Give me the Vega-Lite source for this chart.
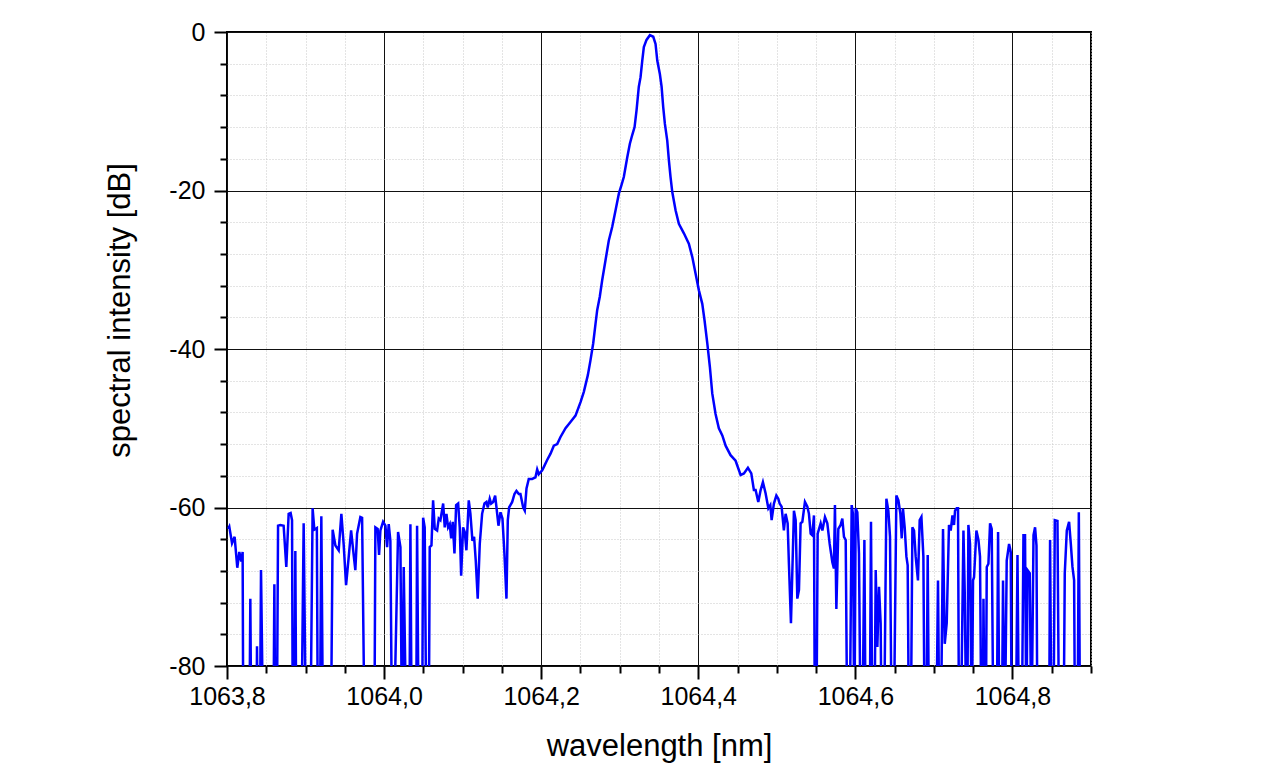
{
  "$schema": "https://vega.github.io/schema/vega-lite/v6.json",
  "width": 864,
  "height": 634,
  "autosize": "none",
  "padding": {"left": 227, "top": 32, "right": 175, "bottom": 111},
  "background": "white",
  "data": {
    "values": [
      {"wavelength": 1063.8013, "dB": -62.7}, {"wavelength": 1063.8029, "dB": -62.4}, {"wavelength": 1063.8064, "dB": -64.5},
      {"wavelength": 1063.8097, "dB": -63.7}, {"wavelength": 1063.8131, "dB": -67.6}, {"wavelength": 1063.8157, "dB": -65.6},
      {"wavelength": 1063.8182, "dB": -66.8}, {"wavelength": 1063.8199, "dB": -65.6}, {"wavelength": 1063.8208, "dB": -90},
      {"wavelength": 1063.8284, "dB": -90}, {"wavelength": 1063.8297, "dB": -71.5}, {"wavelength": 1063.8310, "dB": -90},
      {"wavelength": 1063.8373, "dB": -90}, {"wavelength": 1063.8382, "dB": -77.5}, {"wavelength": 1063.8392, "dB": -90},
      {"wavelength": 1063.8418, "dB": -90}, {"wavelength": 1063.8433, "dB": -67.9}, {"wavelength": 1063.8462, "dB": -90},
      {"wavelength": 1063.8590, "dB": -90}, {"wavelength": 1063.8603, "dB": -69.7}, {"wavelength": 1063.8615, "dB": -90},
      {"wavelength": 1063.8634, "dB": -90}, {"wavelength": 1063.8650, "dB": -62.3}, {"wavelength": 1063.8679, "dB": -62.2},
      {"wavelength": 1063.8721, "dB": -62.3}, {"wavelength": 1063.8755, "dB": -67.5}, {"wavelength": 1063.8785, "dB": -60.8},
      {"wavelength": 1063.8810, "dB": -60.7}, {"wavelength": 1063.8828, "dB": -61.6}, {"wavelength": 1063.8838, "dB": -90},
      {"wavelength": 1063.8857, "dB": -90}, {"wavelength": 1063.8870, "dB": -65.5}, {"wavelength": 1063.8883, "dB": -90},
      {"wavelength": 1063.8946, "dB": -90}, {"wavelength": 1063.8976, "dB": -62.0}, {"wavelength": 1063.9006, "dB": -90},
      {"wavelength": 1063.9061, "dB": -90}, {"wavelength": 1063.9090, "dB": -60.1}, {"wavelength": 1063.9112, "dB": -62.8},
      {"wavelength": 1063.9144, "dB": -62.6}, {"wavelength": 1063.9157, "dB": -90}, {"wavelength": 1063.9182, "dB": -90},
      {"wavelength": 1063.9201, "dB": -61.1}, {"wavelength": 1063.9223, "dB": -90}, {"wavelength": 1063.9322, "dB": -90},
      {"wavelength": 1063.9345, "dB": -62.8}, {"wavelength": 1063.9380, "dB": -64.8}, {"wavelength": 1063.9422, "dB": -65.4},
      {"wavelength": 1063.9456, "dB": -60.8}, {"wavelength": 1063.9485, "dB": -64.6}, {"wavelength": 1063.9516, "dB": -69.8},
      {"wavelength": 1063.9549, "dB": -66.3}, {"wavelength": 1063.9580, "dB": -62.9}, {"wavelength": 1063.9613, "dB": -66.0},
      {"wavelength": 1063.9634, "dB": -67.9}, {"wavelength": 1063.9656, "dB": -63.3}, {"wavelength": 1063.9698, "dB": -61.2},
      {"wavelength": 1063.9720, "dB": -61.3}, {"wavelength": 1063.9753, "dB": -90}, {"wavelength": 1063.9876, "dB": -90},
      {"wavelength": 1063.9889, "dB": -62.5}, {"wavelength": 1063.9918, "dB": -62.7}, {"wavelength": 1063.9936, "dB": -66.0},
      {"wavelength": 1063.9953, "dB": -62.9}, {"wavelength": 1063.9987, "dB": -61.8}, {"wavelength": 1064.0017, "dB": -62.3},
      {"wavelength": 1064.0038, "dB": -65.0}, {"wavelength": 1064.0059, "dB": -62.1}, {"wavelength": 1064.0080, "dB": -64.2},
      {"wavelength": 1064.0102, "dB": -90}, {"wavelength": 1064.0122, "dB": -90}, {"wavelength": 1064.0178, "dB": -63.1},
      {"wavelength": 1064.0208, "dB": -65.0}, {"wavelength": 1064.0229, "dB": -90}, {"wavelength": 1064.0250, "dB": -67.5},
      {"wavelength": 1064.0284, "dB": -90}, {"wavelength": 1064.0322, "dB": -90}, {"wavelength": 1064.0335, "dB": -62.1},
      {"wavelength": 1064.0352, "dB": -90}, {"wavelength": 1064.0408, "dB": -90}, {"wavelength": 1064.0420, "dB": -62.3},
      {"wavelength": 1064.0441, "dB": -90}, {"wavelength": 1064.0484, "dB": -90}, {"wavelength": 1064.0497, "dB": -61.3},
      {"wavelength": 1064.0517, "dB": -62.5}, {"wavelength": 1064.0539, "dB": -90}, {"wavelength": 1064.0568, "dB": -90},
      {"wavelength": 1064.0581, "dB": -65.0}, {"wavelength": 1064.0603, "dB": -64.8}, {"wavelength": 1064.0624, "dB": -59.1},
      {"wavelength": 1064.0645, "dB": -62.7}, {"wavelength": 1064.0675, "dB": -62.9}, {"wavelength": 1064.0696, "dB": -61.4},
      {"wavelength": 1064.0717, "dB": -61.6}, {"wavelength": 1064.0752, "dB": -59.5}, {"wavelength": 1064.0772, "dB": -62.5},
      {"wavelength": 1064.0794, "dB": -60.8}, {"wavelength": 1064.0815, "dB": -62.5}, {"wavelength": 1064.0836, "dB": -62.1},
      {"wavelength": 1064.0854, "dB": -63.9}, {"wavelength": 1064.0874, "dB": -61.8}, {"wavelength": 1064.0896, "dB": -65.8},
      {"wavelength": 1064.0917, "dB": -59.7}, {"wavelength": 1064.0943, "dB": -59.5}, {"wavelength": 1064.0963, "dB": -62.5},
      {"wavelength": 1064.0981, "dB": -68.6}, {"wavelength": 1064.1006, "dB": -62.5}, {"wavelength": 1064.1027, "dB": -63.1},
      {"wavelength": 1064.1048, "dB": -65.4}, {"wavelength": 1064.1078, "dB": -59.1}, {"wavelength": 1064.1099, "dB": -60.8},
      {"wavelength": 1064.1125, "dB": -64.2}, {"wavelength": 1064.1146, "dB": -63.7}, {"wavelength": 1064.1167, "dB": -66.7},
      {"wavelength": 1064.1192, "dB": -71.5}, {"wavelength": 1064.1218, "dB": -64.6}, {"wavelength": 1064.1248, "dB": -60.8},
      {"wavelength": 1064.1278, "dB": -59.5}, {"wavelength": 1064.1303, "dB": -59.3}, {"wavelength": 1064.1320, "dB": -60.0},
      {"wavelength": 1064.1345, "dB": -58.9}, {"wavelength": 1064.1363, "dB": -59.5}, {"wavelength": 1064.1389, "dB": -59.3},
      {"wavelength": 1064.1414, "dB": -58.5}, {"wavelength": 1064.1431, "dB": -60.0}, {"wavelength": 1064.1456, "dB": -62.3},
      {"wavelength": 1064.1482, "dB": -60.6}, {"wavelength": 1064.1507, "dB": -61.4}, {"wavelength": 1064.1532, "dB": -65.8},
      {"wavelength": 1064.1558, "dB": -71.5}, {"wavelength": 1064.1575, "dB": -61.6}, {"wavelength": 1064.1592, "dB": -60.0},
      {"wavelength": 1064.1631, "dB": -59.3}, {"wavelength": 1064.1660, "dB": -58.3}, {"wavelength": 1064.1685, "dB": -57.9},
      {"wavelength": 1064.1715, "dB": -58.3}, {"wavelength": 1064.1736, "dB": -58.3}, {"wavelength": 1064.1771, "dB": -60.0},
      {"wavelength": 1064.1791, "dB": -60.4}, {"wavelength": 1064.1813, "dB": -57.6}, {"wavelength": 1064.1842, "dB": -56.4},
      {"wavelength": 1064.1885, "dB": -56.4}, {"wavelength": 1064.1927, "dB": -56.2}, {"wavelength": 1064.1949, "dB": -55.2},
      {"wavelength": 1064.1969, "dB": -55.8}, {"wavelength": 1064.2013, "dB": -55.3}, {"wavelength": 1064.2033, "dB": -54.9},
      {"wavelength": 1064.2076, "dB": -54.0}, {"wavelength": 1064.2119, "dB": -53.2}, {"wavelength": 1064.2161, "dB": -52.2},
      {"wavelength": 1064.2204, "dB": -52.0}, {"wavelength": 1064.2246, "dB": -51.1}, {"wavelength": 1064.2310, "dB": -50.0},
      {"wavelength": 1064.2373, "dB": -49.2}, {"wavelength": 1064.2437, "dB": -48.4}, {"wavelength": 1064.2501, "dB": -46.7},
      {"wavelength": 1064.2543, "dB": -45.4}, {"wavelength": 1064.2594, "dB": -43.3}, {"wavelength": 1064.2628, "dB": -41.4},
      {"wavelength": 1064.2662, "dB": -39.3}, {"wavelength": 1064.2692, "dB": -36.8}, {"wavelength": 1064.2713, "dB": -35.1},
      {"wavelength": 1064.2746, "dB": -33.4}, {"wavelength": 1064.2777, "dB": -31.3}, {"wavelength": 1064.2819, "dB": -28.8},
      {"wavelength": 1064.2861, "dB": -26.3}, {"wavelength": 1064.2904, "dB": -24.6}, {"wavelength": 1064.2947, "dB": -22.5},
      {"wavelength": 1064.2989, "dB": -20.4}, {"wavelength": 1064.3023, "dB": -19.3}, {"wavelength": 1064.3052, "dB": -18.3},
      {"wavelength": 1064.3096, "dB": -15.8}, {"wavelength": 1064.3129, "dB": -14.1}, {"wavelength": 1064.3159, "dB": -13.0},
      {"wavelength": 1064.3189, "dB": -12.0}, {"wavelength": 1064.3214, "dB": -9.9}, {"wavelength": 1064.3243, "dB": -6.9},
      {"wavelength": 1064.3265, "dB": -5.7}, {"wavelength": 1064.3287, "dB": -3.6}, {"wavelength": 1064.3307, "dB": -1.9},
      {"wavelength": 1064.3341, "dB": -1.0}, {"wavelength": 1064.3384, "dB": -0.4}, {"wavelength": 1064.3427, "dB": -0.6},
      {"wavelength": 1064.3456, "dB": -1.5}, {"wavelength": 1064.3478, "dB": -3.6}, {"wavelength": 1064.3511, "dB": -5.3},
      {"wavelength": 1064.3533, "dB": -6.9}, {"wavelength": 1064.3554, "dB": -9.5}, {"wavelength": 1064.3575, "dB": -11.6},
      {"wavelength": 1064.3605, "dB": -13.7}, {"wavelength": 1064.3626, "dB": -16.2}, {"wavelength": 1064.3647, "dB": -18.3},
      {"wavelength": 1064.3669, "dB": -20.2}, {"wavelength": 1064.3711, "dB": -22.5}, {"wavelength": 1064.3753, "dB": -24.2},
      {"wavelength": 1064.3817, "dB": -25.4}, {"wavelength": 1064.3880, "dB": -26.7}, {"wavelength": 1064.3924, "dB": -28.4},
      {"wavelength": 1064.3966, "dB": -30.5}, {"wavelength": 1064.4008, "dB": -32.6}, {"wavelength": 1064.4051, "dB": -34.3},
      {"wavelength": 1064.4080, "dB": -36.4}, {"wavelength": 1064.4115, "dB": -39.3}, {"wavelength": 1064.4148, "dB": -42.3},
      {"wavelength": 1064.4178, "dB": -45.6}, {"wavelength": 1064.4220, "dB": -48.2}, {"wavelength": 1064.4262, "dB": -50.0},
      {"wavelength": 1064.4306, "dB": -50.9}, {"wavelength": 1064.4348, "dB": -52.2}, {"wavelength": 1064.4411, "dB": -53.4},
      {"wavelength": 1064.4475, "dB": -54.1}, {"wavelength": 1064.4539, "dB": -55.9}, {"wavelength": 1064.4581, "dB": -55.7},
      {"wavelength": 1064.4632, "dB": -55.0}, {"wavelength": 1064.4675, "dB": -55.7}, {"wavelength": 1064.4708, "dB": -57.8},
      {"wavelength": 1064.4730, "dB": -57.8}, {"wavelength": 1064.4764, "dB": -59.3}, {"wavelength": 1064.4794, "dB": -57.8},
      {"wavelength": 1064.4823, "dB": -56.8}, {"wavelength": 1064.4857, "dB": -58.2}, {"wavelength": 1064.4892, "dB": -60.1},
      {"wavelength": 1064.4917, "dB": -59.7}, {"wavelength": 1064.4934, "dB": -61.6}, {"wavelength": 1064.4963, "dB": -59.5},
      {"wavelength": 1064.4994, "dB": -58.5}, {"wavelength": 1064.5019, "dB": -58.9}, {"wavelength": 1064.5036, "dB": -59.5},
      {"wavelength": 1064.5061, "dB": -59.9}, {"wavelength": 1064.5090, "dB": -62.9}, {"wavelength": 1064.5112, "dB": -60.8},
      {"wavelength": 1064.5138, "dB": -62.0}, {"wavelength": 1064.5154, "dB": -67.1}, {"wavelength": 1064.5180, "dB": -74.6},
      {"wavelength": 1064.5197, "dB": -68.3}, {"wavelength": 1064.5218, "dB": -60.4}, {"wavelength": 1064.5240, "dB": -61.6},
      {"wavelength": 1064.5261, "dB": -71.5}, {"wavelength": 1064.5282, "dB": -70.4}, {"wavelength": 1064.5303, "dB": -62.0},
      {"wavelength": 1064.5325, "dB": -61.8}, {"wavelength": 1064.5358, "dB": -59.3}, {"wavelength": 1064.5389, "dB": -59.9},
      {"wavelength": 1064.5409, "dB": -60.8}, {"wavelength": 1064.5431, "dB": -63.3}, {"wavelength": 1064.5452, "dB": -63.5},
      {"wavelength": 1064.5473, "dB": -61.0}, {"wavelength": 1064.5485, "dB": -90}, {"wavelength": 1064.5503, "dB": -90},
      {"wavelength": 1064.5520, "dB": -63.3}, {"wavelength": 1064.5558, "dB": -62.0}, {"wavelength": 1064.5580, "dB": -62.9},
      {"wavelength": 1064.5613, "dB": -61.2}, {"wavelength": 1064.5643, "dB": -62.0}, {"wavelength": 1064.5673, "dB": -64.6},
      {"wavelength": 1064.5707, "dB": -66.9}, {"wavelength": 1064.5727, "dB": -67.7}, {"wavelength": 1064.5740, "dB": -59.7},
      {"wavelength": 1064.5758, "dB": -72.8}, {"wavelength": 1064.5783, "dB": -62.7}, {"wavelength": 1064.5813, "dB": -62.2},
      {"wavelength": 1064.5834, "dB": -61.4}, {"wavelength": 1064.5855, "dB": -63.7}, {"wavelength": 1064.5877, "dB": -64.1},
      {"wavelength": 1064.5898, "dB": -90}, {"wavelength": 1064.5927, "dB": -90}, {"wavelength": 1064.5953, "dB": -59.7},
      {"wavelength": 1064.5969, "dB": -60.8}, {"wavelength": 1064.5987, "dB": -90}, {"wavelength": 1064.6004, "dB": -60.1},
      {"wavelength": 1064.6025, "dB": -60.6}, {"wavelength": 1064.6046, "dB": -65.8}, {"wavelength": 1064.6068, "dB": -90},
      {"wavelength": 1064.6089, "dB": -90}, {"wavelength": 1064.6115, "dB": -64.1}, {"wavelength": 1064.6131, "dB": -90},
      {"wavelength": 1064.6182, "dB": -90}, {"wavelength": 1064.6199, "dB": -61.8}, {"wavelength": 1064.6217, "dB": -90},
      {"wavelength": 1064.6242, "dB": -90}, {"wavelength": 1064.6259, "dB": -67.9}, {"wavelength": 1064.6280, "dB": -77.6},
      {"wavelength": 1064.6301, "dB": -70.0}, {"wavelength": 1064.6322, "dB": -74.6}, {"wavelength": 1064.6335, "dB": -90},
      {"wavelength": 1064.6364, "dB": -90}, {"wavelength": 1064.6395, "dB": -58.9}, {"wavelength": 1064.6420, "dB": -60.4},
      {"wavelength": 1064.6441, "dB": -63.7}, {"wavelength": 1064.6463, "dB": -90}, {"wavelength": 1064.6488, "dB": -90},
      {"wavelength": 1064.6522, "dB": -58.5}, {"wavelength": 1064.6548, "dB": -59.1}, {"wavelength": 1064.6573, "dB": -60.8},
      {"wavelength": 1064.6590, "dB": -63.9}, {"wavelength": 1064.6606, "dB": -60.1}, {"wavelength": 1064.6628, "dB": -62.5},
      {"wavelength": 1064.6650, "dB": -66.2}, {"wavelength": 1064.6666, "dB": -67.3}, {"wavelength": 1064.6683, "dB": -90},
      {"wavelength": 1064.6705, "dB": -90}, {"wavelength": 1064.6726, "dB": -62.5}, {"wavelength": 1064.6747, "dB": -62.9},
      {"wavelength": 1064.6768, "dB": -66.2}, {"wavelength": 1064.6797, "dB": -69.2}, {"wavelength": 1064.6819, "dB": -61.6},
      {"wavelength": 1064.6841, "dB": -61.2}, {"wavelength": 1064.6866, "dB": -66.2}, {"wavelength": 1064.6883, "dB": -90},
      {"wavelength": 1064.6904, "dB": -90}, {"wavelength": 1064.6921, "dB": -66.0}, {"wavelength": 1064.6938, "dB": -90},
      {"wavelength": 1064.7029, "dB": -90}, {"wavelength": 1064.7052, "dB": -69.2}, {"wavelength": 1064.7070, "dB": -90},
      {"wavelength": 1064.7087, "dB": -90}, {"wavelength": 1064.7116, "dB": -62.7}, {"wavelength": 1064.7138, "dB": -77.2},
      {"wavelength": 1064.7163, "dB": -74.6}, {"wavelength": 1064.7192, "dB": -62.2}, {"wavelength": 1064.7214, "dB": -62.9},
      {"wavelength": 1064.7236, "dB": -61.0}, {"wavelength": 1064.7256, "dB": -62.2}, {"wavelength": 1064.7269, "dB": -60.4},
      {"wavelength": 1064.7290, "dB": -60.1}, {"wavelength": 1064.7307, "dB": -60.1}, {"wavelength": 1064.7320, "dB": -90},
      {"wavelength": 1064.7341, "dB": -90}, {"wavelength": 1064.7376, "dB": -62.9}, {"wavelength": 1064.7392, "dB": -70.4},
      {"wavelength": 1064.7414, "dB": -90}, {"wavelength": 1064.7424, "dB": -90}, {"wavelength": 1064.7439, "dB": -62.2},
      {"wavelength": 1064.7460, "dB": -64.6}, {"wavelength": 1064.7482, "dB": -90}, {"wavelength": 1064.7498, "dB": -69.2},
      {"wavelength": 1064.7511, "dB": -68.8}, {"wavelength": 1064.7541, "dB": -62.9}, {"wavelength": 1064.7567, "dB": -64.1},
      {"wavelength": 1064.7587, "dB": -66.2}, {"wavelength": 1064.7605, "dB": -90}, {"wavelength": 1064.7622, "dB": -90},
      {"wavelength": 1064.7631, "dB": -71.5}, {"wavelength": 1064.7647, "dB": -90}, {"wavelength": 1064.7660, "dB": -90},
      {"wavelength": 1064.7673, "dB": -67.5}, {"wavelength": 1064.7694, "dB": -67.1}, {"wavelength": 1064.7715, "dB": -62.0},
      {"wavelength": 1064.7736, "dB": -62.7}, {"wavelength": 1064.7758, "dB": -90}, {"wavelength": 1064.7800, "dB": -90},
      {"wavelength": 1064.7817, "dB": -63.1}, {"wavelength": 1064.7834, "dB": -90}, {"wavelength": 1064.7864, "dB": -90},
      {"wavelength": 1064.7880, "dB": -69.2}, {"wavelength": 1064.7902, "dB": -90}, {"wavelength": 1064.7927, "dB": -66.7},
      {"wavelength": 1064.7957, "dB": -64.6}, {"wavelength": 1064.7978, "dB": -65.6}, {"wavelength": 1064.7991, "dB": -90},
      {"wavelength": 1064.8042, "dB": -90}, {"wavelength": 1064.8064, "dB": -66.0}, {"wavelength": 1064.8084, "dB": -90},
      {"wavelength": 1064.8118, "dB": -90}, {"wavelength": 1064.8140, "dB": -63.5}, {"wavelength": 1064.8160, "dB": -63.5},
      {"wavelength": 1064.8178, "dB": -90}, {"wavelength": 1064.8191, "dB": -67.9}, {"wavelength": 1064.8220, "dB": -68.3},
      {"wavelength": 1064.8242, "dB": -90}, {"wavelength": 1064.8268, "dB": -63.5}, {"wavelength": 1064.8288, "dB": -62.5},
      {"wavelength": 1064.8306, "dB": -64.8}, {"wavelength": 1064.8318, "dB": -90}, {"wavelength": 1064.8466, "dB": -90},
      {"wavelength": 1064.8479, "dB": -64.1}, {"wavelength": 1064.8497, "dB": -90}, {"wavelength": 1064.8522, "dB": -90},
      {"wavelength": 1064.8539, "dB": -61.6}, {"wavelength": 1064.8573, "dB": -61.7}, {"wavelength": 1064.8594, "dB": -90},
      {"wavelength": 1064.8650, "dB": -90}, {"wavelength": 1064.8666, "dB": -68.3}, {"wavelength": 1064.8692, "dB": -62.9},
      {"wavelength": 1064.8721, "dB": -61.8}, {"wavelength": 1064.8743, "dB": -64.6}, {"wavelength": 1064.8764, "dB": -67.5},
      {"wavelength": 1064.8785, "dB": -69.2}, {"wavelength": 1064.8797, "dB": -90}, {"wavelength": 1064.8828, "dB": -90},
      {"wavelength": 1064.8845, "dB": -60.6}, {"wavelength": 1064.8861, "dB": -90}
    ]
  },
  "layer": [
    {
      "mark": {"type": "line", "opacity": 0, "clip": true},
      "encoding": {
        "x": {
          "field": "wavelength",
          "type": "quantitative",
          "scale": {"domain": [1063.8, 1064.9], "nice": false, "zero": false},
          "axis": {
            "orient": "bottom",
            "values": [1063.85, 1063.9, 1063.95, 1064.05, 1064.1, 1064.15, 1064.25, 1064.3, 1064.35, 1064.45, 1064.5, 1064.55, 1064.65, 1064.7, 1064.75, 1064.85, 1064.9],
            "labels": false,
            "title": null,
            "domain": false,
            "tickSize": 7,
            "tickWidth": 2,
            "tickColor": "#000000",
            "grid": true,
            "gridColor": "#c8c8c8",
            "gridDash": [1, 2],
            "gridWidth": 1
          }
        },
        "y": {
          "field": "dB",
          "type": "quantitative",
          "scale": {"domain": [-80, 0], "nice": false, "zero": false},
          "axis": {
            "orient": "left",
            "values": [-4, -8, -12, -16, -24, -28, -32, -36, -44, -48, -52, -56, -64, -68, -72, -76],
            "labels": false,
            "title": null,
            "domain": false,
            "tickSize": 7,
            "tickWidth": 2,
            "tickColor": "#000000",
            "grid": true,
            "gridColor": "#c8c8c8",
            "gridDash": [1, 2],
            "gridWidth": 1
          }
        }
      }
    },
    {
      "mark": {"type": "line", "color": "#0000ff", "strokeWidth": 2.5, "clip": true, "interpolate": "linear"},
      "encoding": {
        "x": {
          "field": "wavelength",
          "type": "quantitative",
          "title": "wavelength [nm]",
          "scale": {"domain": [1063.8, 1064.9], "nice": false, "zero": false},
          "axis": {
            "orient": "bottom",
            "values": [1063.8, 1064.0, 1064.2, 1064.4, 1064.6, 1064.8],
            "labelExpr": "replace(format(datum.value, '.1f'), '.', ',')",
            "domain": false,
            "tickSize": 13,
            "tickWidth": 2,
            "tickColor": "#000000",
            "grid": true,
            "gridColor": "#111111",
            "gridWidth": 1,
            "labelPadding": 5,
            "titlePadding": 22
          }
        },
        "y": {
          "field": "dB",
          "type": "quantitative",
          "title": "spectral intensity [dB]",
          "scale": {"domain": [-80, 0], "nice": false, "zero": false},
          "axis": {
            "orient": "left",
            "values": [-80, -60, -40, -20, 0],
            "labelExpr": "toString(datum.value)",
            "domain": false,
            "tickSize": 13,
            "tickWidth": 2,
            "tickColor": "#000000",
            "grid": true,
            "gridColor": "#111111",
            "gridWidth": 1,
            "labelPadding": 9,
            "titlePadding": 32,
            "titleY": 278
          }
        }
      }
    }
  ],
  "resolve": {"axis": {"x": "independent", "y": "independent"}},
  "config": {
    "view": {"stroke": "#000000", "strokeWidth": 2},
    "axis": {
      "labelFont": "Liberation Sans",
      "titleFont": "Liberation Sans",
      "labelFontSize": 25,
      "titleFontSize": 31,
      "titleFontWeight": "normal",
      "labelColor": "#000000",
      "titleColor": "#000000",
      "labelFlush": false,
      "labelOverlap": false
    }
  }
}
